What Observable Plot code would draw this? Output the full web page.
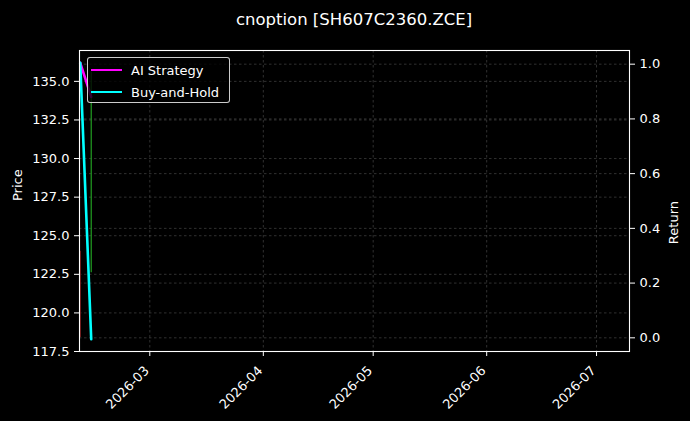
<!DOCTYPE html>
<html><head><meta charset="utf-8">
<script src="https://cdn.jsdelivr.net/npm/d3@7"></script>
<script src="https://cdn.jsdelivr.net/npm/@observablehq/plot@0.6"></script>
<style>
html,body{margin:0;padding:0;background:#000;}
#fig{position:relative;width:690px;height:421px;background:#000;font-family:"DejaVu Sans",sans-serif;color:#fff;overflow:hidden}
#fig svg{position:absolute;left:0;top:0}
#title{position:absolute;top:10px;left:79px;width:550px;text-align:center;font-size:16.5px;line-height:20px;z-index:3}
#legend{position:absolute;left:87px;top:57px;width:141px;height:44px;border:1px solid rgba(255,255,255,0.8);border-radius:3px;background:rgba(0,0,0,0.8);z-index:3;font-size:13px}
.row{position:absolute;left:3px;height:20px;display:flex;align-items:center}
.sw{width:31px;height:2.6px;margin-right:9px}
</style></head><body>
<div id="fig"><div id="title">cnoption [SH607C2360.ZCE]</div></div>
<script>
const dates = ["2026-02-10", "2026-02-13"];
const aiStrategy = [136.2, 134.0];
const buyAndHold = [136.2, 118.3];
const candleOpen = [124.0, 122.6];
const candleClose = [118.4, 135.6];
const priceTicks = [117.5, 120, 122.5, 125, 127.5, 130, 132.5, 135];
const returnTicks = [0, 0.2, 0.4, 0.6, 0.8, 1.0];
const monthTicks = ["2026-03-01", "2026-04-01", "2026-05-01", "2026-06-01", "2026-07-01"];
const xRange = ["2026-02-09T19:12:00Z", "2026-07-10T00:00:00Z"];
const priceRange = [117.5, 137.0];
const returnRange = [-0.05, 1.05];
const seriesNames = ["AI Strategy", "Buy-and-Hold"];
const seriesColors = ["#ff00ff", "#00ffff"];

const W = 690, H = 421;
const M = {marginTop: 50, marginRight: 61, marginBottom: 70, marginLeft: 79};
const style = {background: "transparent", color: "white", fontFamily: "DejaVu Sans, sans-serif", fontSize: "13px"};
const xDom = xRange.map(d => new Date(d));
const months = monthTicks.map(d => new Date(d));
const gridStyle = {stroke: "#9a9a9a", strokeOpacity: 0.45, strokeWidth: 0.7, strokeDasharray: "2.5,2.5"};

const series = [];
seriesNames.forEach((name, k) => {
  const vals = k === 0 ? aiStrategy : buyAndHold;
  dates.forEach((d, i) => series.push({date: new Date(d), value: vals[i], name}));
});
const candles = dates.map((d, i) => ({date: new Date(d), open: candleOpen[i], close: candleClose[i]}));

const back = Plot.plot({
  width: W, height: H, ...M, style,
  x: {type: "utc", domain: xDom, axis: null},
  y: {domain: returnRange, axis: null},
  marks: [
    Plot.gridY(returnTicks, gridStyle),
    Plot.axisY(returnTicks, {anchor: "right", tickSize: 5, tickPadding: 5, tickFormat: d3.format(".1f"), label: null}),
    Plot.text(["Return"], {frameAnchor: "right", dx: 44, rotate: -90, text: d => d, fontSize: 13})
  ]
});

const front = Plot.plot({
  width: W, height: H, ...M, style,
  x: {type: "utc", domain: xDom, axis: null},
  y: {domain: priceRange, axis: null},
  color: {domain: seriesNames, range: seriesColors},
  marks: [
    Plot.gridX(months, gridStyle),
    Plot.gridY(priceTicks, gridStyle),
    Plot.ruleX(candles, {x: "date", y1: "open", y2: "close", stroke: d => d.close >= d.open ? "#22a022" : "#801818", strokeWidth: 1.2}),
    Plot.line(series, {x: "date", y: "value", z: "name", stroke: "name", strokeWidth: 2.6}),
    Plot.frame({stroke: "white", strokeWidth: 1.1}),
    Plot.axisX(months, {tickSize: 5, text: null, label: null}),
    Plot.axisX(months, {tickSize: 0, tickPadding: 17, dx: -3, tickFormat: d3.utcFormat("%Y-%m"), tickRotate: -45, label: null}),
    Plot.axisY(priceTicks, {tickSize: 5, tickPadding: 5, tickFormat: d3.format(".1f"), label: null}),
    Plot.text(["Price"], {frameAnchor: "left", dx: -62, rotate: -90, text: d => d, fontSize: 13})
  ]
});

const fig = document.getElementById("fig");
fig.appendChild(back);
fig.appendChild(front);

const legend = document.createElement("div");
legend.id = "legend";
seriesNames.forEach((name, k) => {
  const row = document.createElement("div");
  row.className = "row";
  row.style.top = (2 + k * 22) + "px";
  const sw = document.createElement("div");
  sw.className = "sw";
  sw.style.background = seriesColors[k];
  const t = document.createElement("span");
  t.textContent = name;
  row.appendChild(sw); row.appendChild(t);
  legend.appendChild(row);
});
fig.appendChild(legend);
</script>
</body></html>
